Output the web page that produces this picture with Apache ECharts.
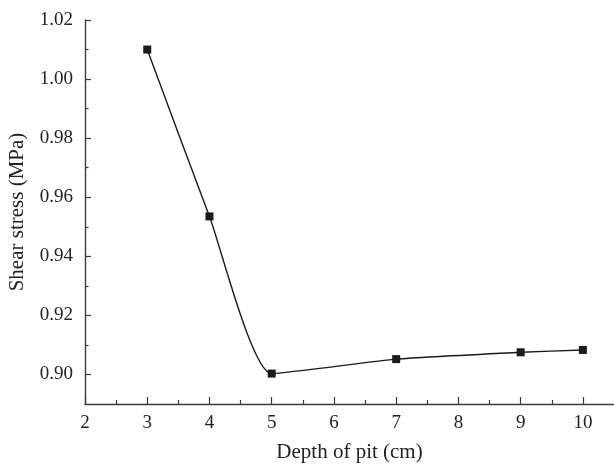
<!DOCTYPE html>
<html>
<head>
<meta charset="utf-8">
<title>Shear stress vs depth of pit</title>
<script src="https://cdn.jsdelivr.net/npm/echarts@6/dist/echarts.min.js"></script>
<style>
  html, body { margin: 0; padding: 0; background: #fff; }
  #chart { width: 614px; height: 466px; }
</style>
</head>
<body>
<div id="chart"></div>
<script>
// Pit depth (cm) and measured shear stress (MPa)
const depths = [3, 4, 5, 7, 9, 10];
const shearStress = [1.010, 0.9535, 0.9003, 0.9052, 0.9075, 0.9083];

// Axis tick positions
const xMajorTicks = [2, 3, 4, 5, 6, 7, 8, 9, 10];
const xMinorTicks = [2.5, 3.5, 4.5, 5.5, 6.5, 7.5, 8.5, 9.5];
const yMajorTicks = [0.90, 0.92, 0.94, 0.96, 0.98, 1.00, 1.02];
const yMinorTicks = [0.91, 0.93, 0.95, 0.97, 0.99, 1.01];

const FONT = 'Liberation Serif';
const AXIS_COLOR = '#3a3a3a';
const TEXT_COLOR = '#222';

const chart = echarts.init(document.getElementById('chart'), null, { renderer: 'canvas' });

const xBase = { type: 'value', min: 2, max: 10.5, position: 'bottom', splitLine: { show: false } };
const yBase = { type: 'value', min: 0.89, max: 1.02, position: 'left', splitLine: { show: false } };

chart.setOption({
  animation: false,
  backgroundColor: '#fff',
  grid: { left: 85, right: 0, top: 20, bottom: 62, containLabel: false, outerBoundsMode: 'none' },
  xAxis: [
    Object.assign({}, xBase, {
      name: 'Depth of pit (cm)',
      nameLocation: 'middle',
      nameGap: 38,
      nameMoveOverlap: false,
      nameTextStyle: { fontFamily: FONT, fontSize: 21, color: TEXT_COLOR, verticalAlign: 'top' },
      axisLine: { show: true, onZero: false, lineStyle: { color: AXIS_COLOR, width: 1.4 } },
      axisTick: { show: true, inside: true, length: 7, customValues: xMajorTicks,
                  lineStyle: { color: AXIS_COLOR, width: 1.2 } },
      axisLabel: { show: true, customValues: xMajorTicks, margin: 10,
                   fontFamily: FONT, fontSize: 19, color: TEXT_COLOR }
    }),
    Object.assign({}, xBase, {
      axisLine: { show: false, onZero: false },
      axisTick: { show: true, inside: true, length: 4, customValues: xMinorTicks,
                  lineStyle: { color: AXIS_COLOR, width: 1.2 } },
      axisLabel: { show: false }
    })
  ],
  yAxis: [
    Object.assign({}, yBase, {
      name: 'Shear stress (MPa)',
      nameLocation: 'middle',
      nameGap: 57,
      nameMoveOverlap: false,
      nameTextStyle: { fontFamily: FONT, fontSize: 21, color: TEXT_COLOR },
      axisLine: { show: true, onZero: false, lineStyle: { color: AXIS_COLOR, width: 1.4 } },
      axisTick: { show: true, inside: true, length: 6, customValues: yMajorTicks,
                  lineStyle: { color: AXIS_COLOR, width: 1.2 } },
      axisLabel: { show: true, customValues: yMajorTicks, margin: 12,
                   fontFamily: FONT, fontSize: 19, color: TEXT_COLOR,
                   formatter: v => v.toFixed(2) }
    }),
    Object.assign({}, yBase, {
      axisLine: { show: false, onZero: false },
      axisTick: { show: true, inside: true, length: 3.5, customValues: yMinorTicks,
                  lineStyle: { color: AXIS_COLOR, width: 1.2 } },
      axisLabel: { show: false }
    })
  ],
  series: [{
    type: 'line',
    xAxisIndex: 0,
    yAxisIndex: 0,
    data: depths.map((d, i) => [d, shearStress[i]]),
    smooth: 0.18,
    symbol: 'rect',
    symbolSize: 8,
    lineStyle: { color: '#1a1a1a', width: 1.4 },
    itemStyle: { color: '#1a1a1a', borderWidth: 0 },
    z: 5
  }]
});
</script>
</body>
</html>
